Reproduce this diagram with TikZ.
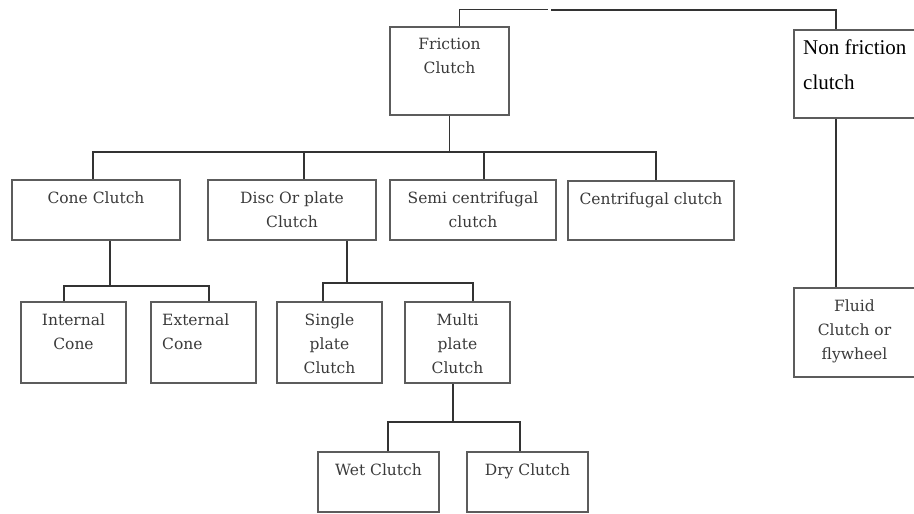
\documentclass[tikz,border=0pt]{standalone}
\usepackage{fontspec}
\setmainfont{DejaVu Serif}
\newfontfamily\nffont{Liberation Serif}
\usetikzlibrary{positioning}

\definecolor{boxgray}{HTML}{5C5C5C}
\definecolor{linegray}{HTML}{333333}
\definecolor{txtgray}{HTML}{3A3A3A}

\tikzset{
  box/.style={draw=boxgray, line width=1.6, minimum width=#1, inner sep=0},
  lbl/.style={anchor=north, inner sep=0, align=center, text=txtgray,
    font=\fontsize{15.5}{24}\selectfont},
  conn/.style={draw=linegray, line width=1.3}
}

\begin{document}
\begin{tikzpicture}[x=1pt, y=-1pt]

\useasboundingbox (0,0) rectangle (914,514);

\node[box=119, minimum height=88] (fric) at (449.5,71) {};
\node[lbl] (fricT) at ([yshift=-12]fric.north) {Friction\\Clutch};

\node[box=121, minimum height=88] (nonf) at (854.5,74) {};
\node[anchor=north west, inner sep=0, align=left, font=\nffont\fontsize{21}{35}\selectfont]
  (nonfT) at (803,40) {Non friction\\clutch};

\node[box=168, minimum height=60] (cone) at (96,210) {};
\node[lbl] (coneT) at ([yshift=-12]cone.north) {Cone Clutch};
\node[box=168, minimum height=60] (disc) at (292,210) {};
\node[lbl] (discT) at ([yshift=-12]disc.north) {Disc Or plate\\Clutch};
\node[box=166, minimum height=60] (semi) at (473,210) {};
\node[lbl] (semiT) at ([yshift=-12]semi.north) {Semi centrifugal\\clutch};
\node[box=166, minimum height=59] (cent) at (651,210.5) {};
\node[lbl] (centT) at ([yshift=-12]cent.north) {Centrifugal clutch};

\node[box=105, minimum height=81] (intc) at (73.5,342.5) {};
\node[lbl] (intcT) at ([yshift=-12]intc.north) {Internal\\Cone};
\node[box=105, minimum height=81] (extc) at (203.5,342.5) {};
\node[lbl, anchor=north west, align=left] (extcT) at (162,314) {External\\Cone};
\node[box=105, minimum height=81] (sing) at (329.5,342.5) {};
\node[lbl] (singT) at ([yshift=-12]sing.north) {Single\\plate\\Clutch};
\node[box=105, minimum height=81] (mult) at (457.5,342.5) {};
\node[lbl] (multT) at ([yshift=-12]mult.north) {Multi\\plate\\Clutch};

\node[box=121, minimum height=60] (wet) at (378.5,482) {};
\node[lbl] (wetT) at ([yshift=-12]wet.north) {Wet Clutch};
\node[box=121, minimum height=60] (dry) at (527.5,482) {};
\node[lbl] (dryT) at ([yshift=-12]dry.north) {Dry Clutch};

\node[box=121, minimum height=89] (flu) at (854.5,332.5) {};
\node[lbl] (fluT) at ([yshift=-12]flu.north) {Fluid\\Clutch or\\flywheel};

\coordinate (tl) at (548,9);
\coordinate (tr) at (551,10);
\draw[conn, line width=1] ([xshift=9.5]fric.north) |- (tl);
\draw[conn, line width=2] (tr) -| ([xshift=-18.5]nonf.north);
\draw[conn, line width=2] ([xshift=-18.5]nonf.south) -- ([xshift=-18.5]flu.north);

\coordinate (b1) at (0,152);
\draw[conn] (fric.south) -- (fric.south |- b1);
\draw[conn] ([xshift=-3]cone.north) |- (fric.south |- b1);
\draw[conn] ([xshift=12]disc.north) |- (fric.south |- b1);
\draw[conn] ([xshift=11]semi.north) |- (fric.south |- b1);
\draw[conn] ([xshift=5]cent.north) |- (fric.south |- b1);

\coordinate (b2) at (0,286);
\draw[conn] ([xshift=14]cone.south) -- ([xshift=14]cone.south |- b2);
\draw[conn] ([xshift=-9.5]intc.north) |- ([xshift=14]cone.south |- b2);
\draw[conn] ([xshift=5.5]extc.north) |- ([xshift=14]cone.south |- b2);

\coordinate (b3) at (0,283);
\draw[conn] ([xshift=55]disc.south) -- ([xshift=55]disc.south |- b3);
\draw[conn] ([xshift=-6.5]sing.north) |- ([xshift=55]disc.south |- b3);
\draw[conn] ([xshift=15.5]mult.north) |- ([xshift=55]disc.south |- b3);

\coordinate (b4) at (0,422);
\draw[conn] ([xshift=-4.5]mult.south) -- ([xshift=-4.5]mult.south |- b4);
\draw[conn] ([xshift=9.5]wet.north) |- ([xshift=-4.5]mult.south |- b4);
\draw[conn] ([xshift=-7.5]dry.north) |- ([xshift=-4.5]mult.south |- b4);

\end{tikzpicture}
\end{document}
